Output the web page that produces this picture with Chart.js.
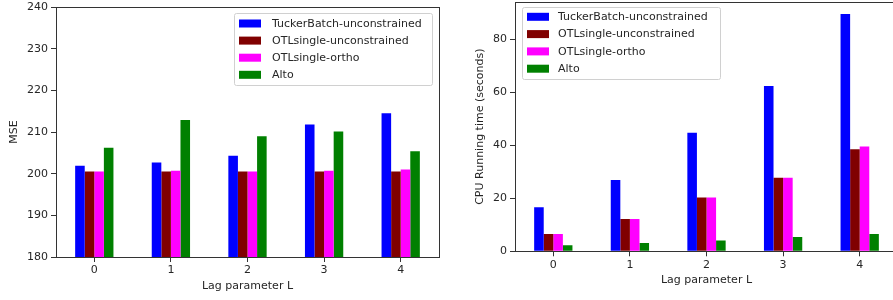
<!DOCTYPE html>
<html>
<head>
<meta charset="utf-8">
<script src="https://cdn.jsdelivr.net/npm/chart.js@4"></script>
<style>
  html, body { margin: 0; padding: 0; background: #fff; overflow: hidden; width: 893px; height: 300px; }
  .box { position: absolute; top: 0; height: 300px; }
  #left-box { left: 0; width: 445px; }
  #right-box { left: 455px; width: 450px; }
</style>
</head>
<body>
<div class="box" id="left-box"><canvas id="mse-chart"></canvas></div>
<div class="box" id="right-box"><canvas id="cpu-chart"></canvas></div>
<script>
// data
let lags = ['0', '1', '2', '3', '4'];
let seriesNames = ['TuckerBatch-unconstrained', 'OTLsingle-unconstrained', 'OTLsingle-ortho', 'Alto'];
let seriesColors = ['#0000ff', '#800000', '#ff00ff', '#008000'];

let mseTucker = [201.9, 202.7, 204.3, 211.8, 214.5];
let mseOtlUnc = [200.5, 200.5, 200.5, 200.5, 200.5];
let mseOtlOrtho = [200.5, 200.7, 200.5, 200.7, 201.0];
let mseAlto = [206.2, 212.9, 209.0, 210.1, 205.4];

let cpuTucker = [16.6, 26.9, 44.7, 62.3, 89.5];
let cpuOtlUnc = [6.5, 12.2, 20.3, 27.7, 38.5];
let cpuOtlOrtho = [6.5, 12.2, 20.3, 27.7, 39.5];
let cpuAlto = [2.3, 3.1, 4.1, 5.4, 6.5];

let mseTicks = [180, 190, 200, 210, 220, 230, 240];
let cpuTicks = [0, 20, 40, 60, 80];

Chart.defaults.font.family = '"DejaVu Sans", sans-serif';
Chart.defaults.font.size = 11;
Chart.defaults.color = '#262626';
Chart.defaults.animation = false;

// full box round the plot, like matplotlib spines
const frame = {
    id: 'frame',
    afterDatasetsDraw(chart) {
        let a = chart.chartArea, ctx = chart.ctx;
        ctx.save();
        ctx.strokeStyle = '#333';
        ctx.lineWidth = 1;
        ctx.strokeRect(Math.round(a.left) + 0.5, Math.round(a.top) + 0.5,
            Math.round(a.right - a.left), Math.round(a.bottom - a.top));
        ctx.restore();
    }
};

// legend drawn inside the plot
const innerLegend = {
    id: 'innerLegend',
    afterDraw(chart, args, opts) {
        let ctx = chart.ctx;
        ctx.save();
        ctx.fillStyle = 'rgba(255,255,255,0.85)';
        ctx.strokeStyle = '#d0d0d0';
        ctx.lineWidth = 1;
        ctx.beginPath();
        ctx.roundRect(opts.x + 0.5, opts.y + 0.5, opts.w, opts.h, 2);
        ctx.fill();
        ctx.stroke();
        ctx.font = '11px "DejaVu Sans", sans-serif';
        ctx.textBaseline = 'middle';
        chart.data.datasets.forEach((ds, i) => {
            let cy = opts.firstRow + i * opts.step;
            ctx.fillStyle = ds.backgroundColor;
            ctx.fillRect(opts.patchX, cy - 4, 22, 8);
            ctx.fillStyle = '#262626';
            ctx.fillText(ds.label, opts.textX, cy + 0.5);
        });
        ctx.restore();
    }
};

function makeDatasets(values) {
    return values.map((v, i) => ({
        label: seriesNames[i],
        data: v,
        backgroundColor: seriesColors[i],
        borderWidth: 0,
        categoryPercentage: 0.5,
        barPercentage: 1.0
    }));
}

function drawChart(id, values, yOpts, layout, legendOpts) {
    return new Chart(document.getElementById(id), {
        type: 'bar',
        data: { labels: lags, datasets: makeDatasets(values) },
        options: {
            responsive: true,
            maintainAspectRatio: false,
            layout: { padding: layout.padding },
            plugins: {
                legend: { display: false },
                tooltip: { enabled: false },
                innerLegend: legendOpts
            },
            scales: {
                x: {
                    grid: { drawOnChartArea: false, drawTicks: true, tickLength: 5, offset: false, color: '#333' },
                    border: { display: false },
                    ticks: { padding: 2 },
                    title: { display: true, text: 'Lag parameter L', padding: { top: 0, bottom: layout.xTitlePad } },
                    afterFit: s => { s.height = layout.xHeight; s.paddingLeft = 0; s.paddingRight = 0; }
                },
                y: {
                    min: yOpts.min,
                    max: yOpts.max,
                    grid: { drawOnChartArea: false, drawTicks: true, tickLength: 5, color: '#333' },
                    border: { display: false },
                    ticks: {
                        stepSize: yOpts.step,
                        includeBounds: false,
                        padding: 3,
                        callback: v => yOpts.ticks.includes(v) ? v : null
                    },
                    title: { display: true, text: yOpts.title, padding: { top: 0, bottom: 0 } },
                    afterFit: s => { s.width = layout.yWidth; s.paddingTop = 0; s.paddingBottom = 0; }
                }
            }
        },
        plugins: [frame, innerLegend]
    });
}

drawChart('mse-chart', [mseTucker, mseOtlUnc, mseOtlOrtho, mseAlto],
    { min: 180, max: 240, step: 10, ticks: mseTicks, title: 'MSE' },
    { padding: { top: 7, right: 6, left: 8, bottom: 0 }, yWidth: 48, xHeight: 43, xTitlePad: 7 },
    { x: 234, y: 13, w: 198, h: 72, patchX: 239, textX: 272, firstRow: 23.5, step: 17.1 });

drawChart('cpu-chart', [cpuTucker, cpuOtlUnc, cpuOtlOrtho, cpuAlto],
    { min: 0, max: 94, step: 20, ticks: cpuTicks, title: 'CPU Running time (seconds)' },
    { padding: { top: 2, right: 7, left: 19, bottom: 0 }, yWidth: 41, xHeight: 48.7, xTitlePad: 13 },
    { x: 67, y: 7, w: 198, h: 72, patchX: 72, textX: 103, firstRow: 16.8, step: 17.3 });
</script>
</body>
</html>
